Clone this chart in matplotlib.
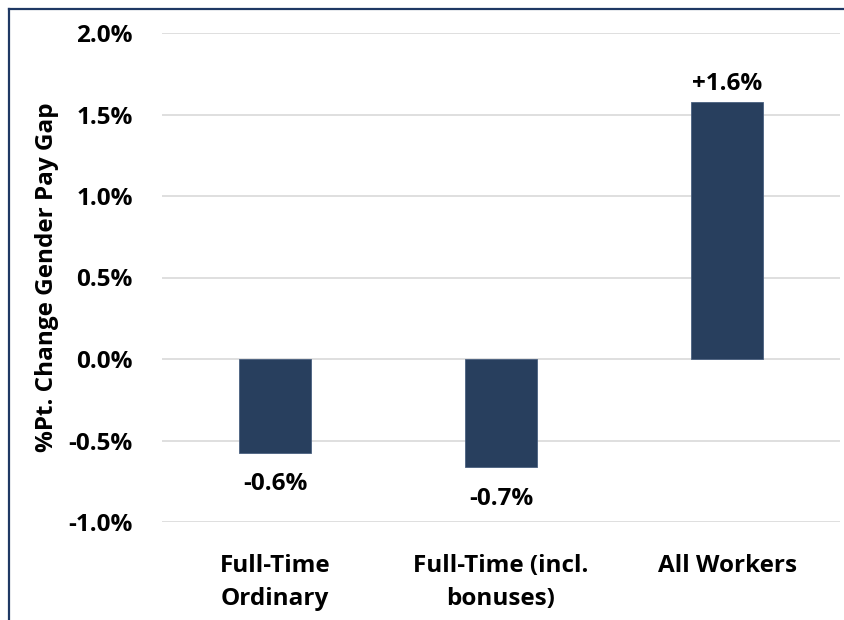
import matplotlib
matplotlib.use('Agg')
import matplotlib.pyplot as plt
from matplotlib.lines import Line2D
from matplotlib.ticker import FuncFormatter

categories = ['Full-Time\nOrdinary', 'Full-Time (incl.\nbonuses)', 'All Workers']
values = [-0.577, -0.663, 1.577]
labels = ['-0.6%', '-0.7%', '+1.6%']
yticks = [-1.0, -0.5, 0.0, 0.5, 1.0, 1.5, 2.0]

BAR = '#283f5e'
plt.rcParams['font.family'] = ['Open Sans', 'DejaVu Sans']
plt.rcParams['font.weight'] = 'bold'
FS = 17.5

W, H = 844, 620
fig = plt.figure(figsize=(W / 100, H / 100), dpi=100)
ax = fig.add_axes([162 / W, 1 - 522 / H, (840 - 162) / W, (522 - 33) / H])

x = range(len(categories))
ax.bar(x, values, width=0.315, color=BAR, edgecolor='#4a6080', linewidth=0.6, zorder=3)
ax.set_xlim(-0.5, 2.5)
ax.set_ylim(-1.0, 2.0)
ax.set_yticks(yticks)
ax.yaxis.set_major_formatter(FuncFormatter(lambda v, p: f'{v:.1f}%'))
ax.set_xticks(list(x))
ax.set_xticklabels(categories, fontsize=FS, fontweight='bold', linespacing=1.52)
ax.tick_params(axis='y', labelsize=FS, length=0, pad=21)
ax.tick_params(axis='x', length=0, pad=23)
ax.grid(axis='y', color='#d9d9d9', linewidth=1.2, zorder=0)
for s in ax.spines.values():
    s.set_visible(False)

ax.set_ylabel('%Pt. Change Gender Pay Gap', fontsize=17.5, fontweight='bold')
ax.yaxis.set_label_coords(-0.152, 0.5)

for i, (v, t) in enumerate(zip(values, labels)):
    if v < 0:
        ax.annotate(t, (i, v), xytext=(0, -14), textcoords='offset points',
                    ha='center', va='top', fontsize=FS, fontweight='bold')
    else:
        ax.annotate(t, (i, v), xytext=(0, 4), textcoords='offset points',
                    ha='center', va='bottom', fontsize=FS, fontweight='bold')

# frame lines on left and top edges
navy = '#1f3864'
fig.add_artist(Line2D([9 / W, 1], [1 - 8.5 / H, 1 - 8.5 / H], color=navy, lw=1.6,
                      transform=fig.transFigure))
fig.add_artist(Line2D([9 / W, 9 / W], [0, 1 - 8.5 / H], color=navy, lw=1.6,
                      transform=fig.transFigure))

fig.savefig('out.png', dpi=100)
